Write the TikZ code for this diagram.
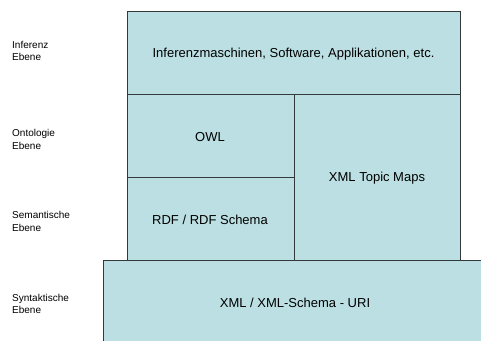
\documentclass[tikz,border=0pt]{standalone}
\usepackage{fontspec}
\setmainfont{Liberation Sans}
\definecolor{boxfill}{HTML}{BBDFE2}
\definecolor{boxline}{HTML}{333838}
\begin{document}
\begin{tikzpicture}[x=1pt,y=-1pt,
  layer/.style={draw=boxline,fill=boxfill,line width=1pt,rectangle,inner sep=0pt},
  txt/.style={inner sep=0pt,font=\fontsize{13}{15}\selectfont},
  lvl/.style={anchor=west,align=left,font=\fontsize{10}{12.5}\selectfont,inner sep=0pt}]
\useasboundingbox (0,0) rectangle (481,340);
\clip (0,0) rectangle (481,340);
\node[layer,minimum width=400pt,minimum height=100pt,anchor=north west] (syn) at (102.5,260) {};
\node[layer,minimum width=333pt,minimum height=83pt,anchor=north west] (inf) at (127,11) {};
\node[layer,minimum width=166.5pt,minimum height=83pt,anchor=north west] (owl) at (127,94) {};
\node[layer,minimum width=166.5pt,minimum height=83pt,anchor=north west] (rdf) at (127,177) {};
\node[layer,minimum width=166.5pt,minimum height=166pt,anchor=north west] (xtm) at (293.5,94) {};
\node[txt] (t1) at (293.5,54) {Inferenzmaschinen, Software, Applikationen, etc.};
\node[txt] (t2) at (210,137) {OWL};
\node[txt] (t3) at (210,220) {RDF / RDF Schema};
\node[txt] (t4) at (377,178) {XML Topic Maps};
\node[txt] (t5) at (295,303) {XML / XML-Schema - URI};
\node[lvl] (l1) at (12,51) {Inferenz\\Ebene};
\node[lvl] (l2) at (12,139.5) {Ontologie\\Ebene};
\node[lvl] (l3) at (12,221.5) {Semantische\\Ebene};
\node[lvl] (l4) at (12,304) {Syntaktische\\Ebene};
\end{tikzpicture}
\end{document}
